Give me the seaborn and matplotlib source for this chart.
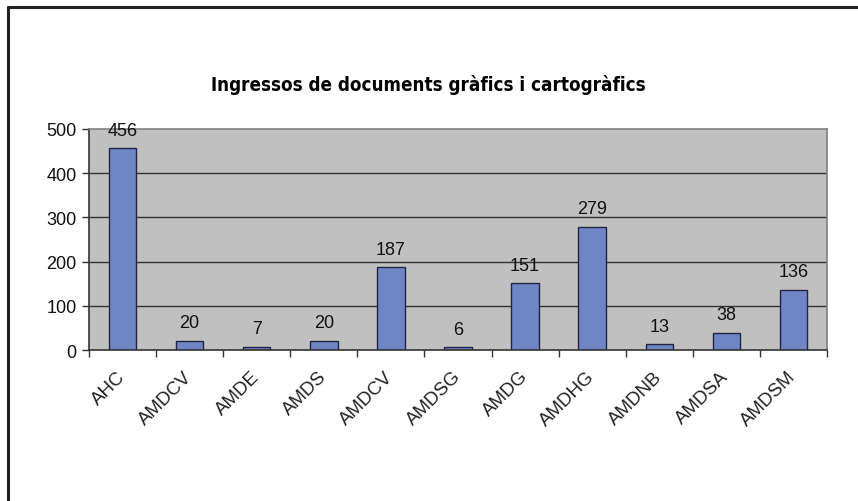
import numpy as np
import pandas as pd
import matplotlib
matplotlib.use("Agg")
import matplotlib.pyplot as plt
import matplotlib.lines as mlines
import matplotlib.transforms as mtransforms
import seaborn as sns

# data
archives = ["AHC", "AMDCV", "AMDE", "AMDS", "AMDCV ", "AMDSG", "AMDG",
            "AMDHG", "AMDNB", "AMDSA", "AMDSM"]
tick_labels = ["AHC", "AMDCV", "AMDE", "AMDS", "AMDCV", "AMDSG", "AMDG",
               "AMDHG", "AMDNB", "AMDSA", "AMDSM"]
ingressos = [456, 20, 7, 20, 187, 6, 151, 279, 13, 38, 136]
y_ticks = [0, 100, 200, 300, 400, 500]

df = pd.DataFrame({"arxiu": archives, "ingressos": ingressos})

sns.set_style("white")
plt.rcParams["font.family"] = ["Liberation Sans", "DejaVu Sans"]

fig = plt.figure(figsize=(8.58, 5.02), dpi=100)
ax = fig.add_axes([89 / 858, 1 - 351 / 502, (827 - 89) / 858, (351 - 130) / 502])
ax.set_facecolor("#c0c0c0")

sns.barplot(data=df, x="arxiu", y="ingressos", ax=ax, color="#6f86c5",
            saturation=1, width=0.41, edgecolor="#222244", linewidth=1)

ax.set_ylim(0, 500)
ax.set_xlim(-0.5, len(archives) - 0.5)
ax.set_yticks(y_ticks)
ax.set_yticklabels([str(v) for v in y_ticks], fontsize=13, color="#111111")
for v in y_ticks[1:-1]:
    ax.axhline(v, color="#333333", lw=1, zorder=0.5)
ax.set_axisbelow(True)

# ticks between categories, labels under bars
ax.set_xticks(np.arange(-0.5, len(archives) + 0.5, 1), minor=False)
ax.set_xticklabels([])
ax.set_xticks(np.arange(len(archives)), minor=True)
ax.set_xticklabels(tick_labels, minor=True, rotation=45, ha="right", va="center",
                   rotation_mode="anchor", fontsize=13.5, color="#222222")
shift = mtransforms.ScaledTranslation(-10 / 100, 0, fig.dpi_scale_trans)
for lbl in ax.get_xticklabels(minor=True):
    lbl.set_transform(lbl.get_transform() + shift)
ax.tick_params(axis="x", which="minor", length=0, pad=17)
ax.tick_params(axis="x", which="major", length=5, width=1, color="#333333",
               direction="out", bottom=True)
ax.tick_params(axis="y", length=5, width=1, color="#333333", direction="out",
               left=True, pad=4)

ax.set_xlabel("")
ax.set_ylabel("")

for side in ["top", "right"]:
    ax.spines[side].set_color("#808080")
    ax.spines[side].set_linewidth(1.2)
for side in ["left", "bottom"]:
    ax.spines[side].set_color("#333333")
    ax.spines[side].set_linewidth(1.2)

# value labels
for i, v in enumerate(ingressos):
    ax.annotate(str(v), (i, v), xytext=(0, 7), textcoords="offset points",
                ha="center", va="bottom", fontsize=13, color="#111111",
                annotation_clip=False)

fig.text(428 / 858, 1 - 85 / 502, "Ingressos de documents gràfics i cartogràfics",
         ha="center", va="center", fontsize=13.5, fontweight="bold",
         fontstretch="condensed", family="DejaVu Sans", color="black")

# outer frame (top and left edges)
fig.add_artist(mlines.Line2D([8 / 858, 1], [1 - 8 / 502, 1 - 8 / 502],
                             color="#222222", lw=2.2, transform=fig.transFigure))
fig.add_artist(mlines.Line2D([8 / 858, 8 / 858], [0, 1 - 8 / 502],
                             color="#222222", lw=2.2, transform=fig.transFigure))

fig.savefig("out.png", dpi=100)
